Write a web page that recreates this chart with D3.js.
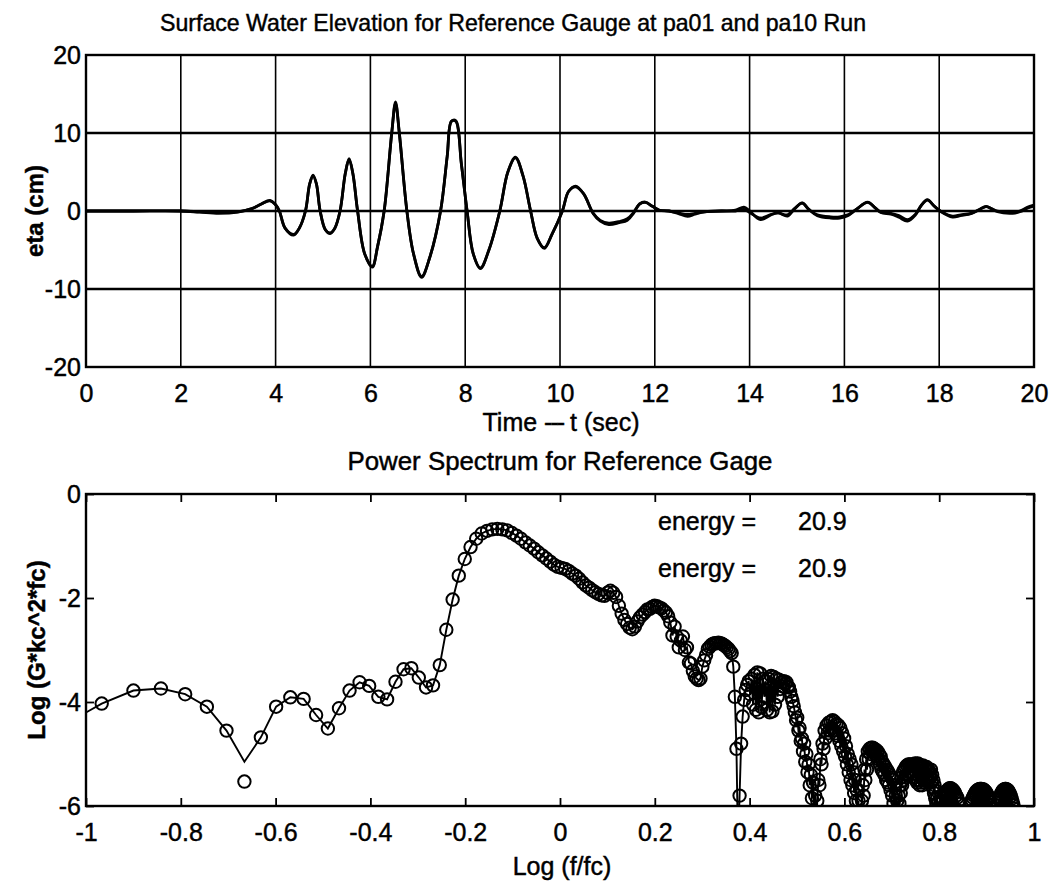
<!DOCTYPE html>
<html><head><meta charset="utf-8">
<script src="https://cdn.jsdelivr.net/npm/d3@7"></script>
<style>
body{margin:0;background:#fff}
svg{display:block}
text{font-family:"Liberation Sans",Arial,Helvetica,sans-serif;fill:#000;stroke:#000;stroke-width:0.45px}
</style>
</head><body>
<svg id="chart" width="1061" height="882"></svg>
<script>
// ---------------- DATA ----------------
const gaugePa01 = [[0,0],[1,0],[2,0],[2.4,-0.15],[2.8,-0.3],[3.2,-0.15],[3.5,0.3],[3.7,0.9],[3.88,1.35],[4.0,0.8],[4.08,0],[4.2,-2.2],[4.38,-3.1],[4.5,-2.2],[4.63,0],[4.72,3.5],[4.79,4.6],[4.86,3.5],[4.94,0],[5.05,-2.4],[5.15,-2.9],[5.25,-2.2],[5.36,0],[5.47,4.8],[5.55,6.7],[5.63,4.8],[5.73,0],[5.88,-5.5],[6.04,-7.2],[6.15,-4.6],[6.29,0],[6.45,10],[6.53,14.0],[6.61,10],[6.77,0],[6.91,-5.5],[7.08,-8.5],[7.25,-6],[7.48,0],[7.62,7],[7.71,11.5],[7.8,11.6],[7.92,6],[8.04,0],[8.17,-5.5],[8.32,-7.4],[8.5,-5],[8.73,0],[8.9,5],[9.06,6.9],[9.22,4.5],[9.38,0],[9.52,-3.5],[9.67,-4.8],[9.83,-3],[10.05,0],[10.18,2.5],[10.33,3.2],[10.5,2.2],[10.7,-0.3],[10.85,-1.3],[11.03,-1.75],[11.25,-1.5],[11.42,-1.2],[11.55,-0.3],[11.68,0.9],[11.8,1.15],[11.95,0.6],[12.1,0.1],[12.3,0],[12.5,-0.35],[12.69,-0.68],[12.85,-0.4],[13.05,-0.1],[13.4,0],[13.7,0.1],[13.88,0.5],[14.0,0.0],[14.23,-1.1],[14.45,-0.5],[14.6,-0.25],[14.8,-0.65],[14.95,0.3],[15.11,1.03],[15.25,0.2],[15.43,-0.6],[15.71,-0.9],[15.9,-0.9],[16.07,-0.6],[16.25,0.2],[16.49,1.15],[16.65,0.4],[16.77,-0.2],[16.98,-0.4],[17.15,-0.8],[17.33,-1.3],[17.5,-0.5],[17.62,0.7],[17.75,1.45],[17.9,0.6],[18.04,-0.1],[18.28,-0.77],[18.45,-0.6],[18.67,-0.35],[18.85,0.2],[18.99,0.6],[19.1,0.3],[19.23,-0.1],[19.55,-0.3],[19.7,-0.1],[19.87,0.4],[20,0.65]];

const gaugePa10 = [[0,0],[1,0],[2,0],[2.4,-0.1],[2.8,-0.2],[3.2,-0.1],[3.5,0.3],[3.7,0.9],[3.88,1.3],[4.0,0.8],[4.08,0],[4.2,-2.2],[4.38,-3.0],[4.5,-2.2],[4.63,0],[4.72,3.5],[4.79,4.5],[4.86,3.5],[4.94,0],[5.05,-2.4],[5.15,-2.8],[5.25,-2.2],[5.36,0],[5.47,4.8],[5.55,6.6],[5.63,4.8],[5.73,0],[5.88,-5.5],[6.04,-7.1],[6.15,-4.6],[6.29,0],[6.45,10],[6.53,13.8],[6.61,10],[6.77,0],[6.91,-5.5],[7.08,-8.4],[7.25,-6],[7.48,0],[7.62,7],[7.71,11.5],[7.8,11.5],[7.92,6],[8.04,0],[8.17,-5.5],[8.32,-7.3],[8.5,-5],[8.73,0],[8.9,5],[9.06,6.8],[9.22,4.5],[9.38,0],[9.52,-3.5],[9.67,-4.7],[9.83,-3],[10.05,0],[10.18,2.5],[10.33,3.1],[10.5,2.2],[10.7,-0.3],[10.85,-1.2],[11.03,-1.55],[11.25,-1.35],[11.42,-1.0],[11.55,-0.2],[11.68,0.9],[11.8,1.1],[11.95,0.6],[12.1,0.1],[12.3,0],[12.5,-0.25],[12.69,-0.45],[12.85,-0.3],[13.05,-0.1],[13.4,0],[13.7,0.0],[13.88,0.2],[14.0,-0.2],[14.23,-0.9],[14.45,-0.45],[14.6,-0.25],[14.8,-0.5],[14.95,0.3],[15.11,1.0],[15.25,0.2],[15.43,-0.5],[15.71,-0.75],[15.9,-0.75],[16.07,-0.5],[16.25,0.2],[16.49,1.1],[16.65,0.4],[16.77,-0.15],[16.98,-0.3],[17.15,-0.6],[17.33,-1.1],[17.5,-0.4],[17.62,0.7],[17.75,1.4],[17.9,0.6],[18.04,-0.05],[18.28,-0.65],[18.45,-0.5],[18.67,-0.3],[18.85,0.2],[18.99,0.55],[19.1,0.3],[19.23,0.0],[19.55,-0.2],[19.7,0.0],[19.87,0.5],[20,0.75]];

const timeTicks = [0,2,4,6,8,10,12,14,16,18,20];
const etaTicks = [-20,-10,0,10,20];

// power spectrum: FFT bins k = specBinStart, specBinStart+1, ...  log10(f/fc) = log10(k) + specLogBinWidth
const specBinStart = 5;
const specLogBinWidth = -1.745;
const specPower = [
-3.95,-4.03,-3.78,-3.74,-3.85,-4.09,-4.55,-5.53,-4.68,-4.09,
-3.91,-3.94,-4.25,-4.51,-4.12,-3.78,-3.62,-3.69,-3.90,-3.95,
-3.61,-3.37,-3.35,-3.53,-3.72,-3.68,-3.29,-2.61,-2.03,-1.57,
-1.25,-1.02,-0.86,-0.76,-0.71,-0.68,-0.67,-0.68,-0.70,-0.75,
-0.80,-0.86,-0.93,-0.99,-1.05,-1.12,-1.18,-1.24,-1.30,-1.36,
-1.40,-1.42,-1.44,-1.48,-1.53,-1.57,-1.63,-1.70,-1.76,-1.80,
-1.85,-1.89,-1.92,-1.95,-1.96,-1.90,-1.86,-1.90,-1.98,-2.15,
-2.30,-2.42,-2.50,-2.57,-2.60,-2.55,-2.45,-2.37,-2.32,-2.27,
-2.22,-2.21,-2.17,-2.15,-2.16,-2.18,-2.20,-2.24,-2.28,-2.35,
-2.47,-2.72,-2.55,-2.74,-2.95,-2.82,-2.74,-3.00,-2.95,-3.24,
-3.26,-3.40,-3.51,-3.55,-3.58,-3.55,-3.32,-3.20,-3.10,-2.98,
-2.94,-2.90,-2.88,-2.87,-2.87,-2.86,-2.87,-2.88,-2.90,-2.92,
-2.95,-2.98,-3.02,-3.06,-3.32,-3.90,-4.90,-6.80,-5.80,-4.80,
-4.28,-3.96,-3.77,-3.67,-3.60,-3.85,-3.55,-4.05,-3.48,-4.15,
-3.43,-4.20,-3.45,-4.10,-3.55,-3.90,-3.60,-4.15,-3.55,-4.20,
-3.50,-4.18,-3.52,-4.05,-3.55,-3.90,-3.57,-3.75,-3.62,-3.70,
-3.60,-3.65,-3.62,-3.70,-3.72,-3.80,-3.90,-3.98,-4.08,-4.20,
-4.35,-4.30,-4.55,-4.50,-4.75,-4.70,-4.95,-4.80,-5.15,-5.00,
-5.35,-5.20,-5.60,-5.40,-5.85,-5.55,-6.10,-5.80,-6.30,-5.90,
-5.50,-5.60,-5.10,-5.20,-4.80,-4.90,-4.55,-4.70,-4.45,-4.60,
-4.40,-4.55,-4.38,-4.50,-4.35,-4.55,-4.38,-4.60,-4.42,-4.65,
-4.45,-4.75,-4.50,-4.85,-4.60,-4.95,-4.70,-5.05,-4.85,-5.20,
-5.00,-5.35,-5.10,-5.50,-5.20,-5.60,-5.35,-5.75,-5.50,-5.90,
-5.70,-6.20,-5.90,-6.40,-6.10,-6.30,-5.90,-5.60,-5.80,-5.30,
-5.50,-5.10,-5.30,-4.95,-5.10,-4.90,-5.00,-4.88,-4.95,-4.88,
-4.95,-4.90,-5.00,-4.92,-5.05,-4.95,-5.10,-5.00,-5.20,-5.05,
-5.30,-5.15,-5.35,-5.20,-5.40,-5.25,-5.50,-5.30,-5.55,-5.35,
-5.60,-5.40,-5.70,-5.45,-5.80,-5.50,-5.95,-5.60,-6.10,-5.80,
-6.30,-5.90,-6.20,-5.80,-5.95,-5.60,-5.75,-5.45,-5.60,-5.35,
-5.50,-5.30,-5.45,-5.25,-5.40,-5.22,-5.38,-5.20,-5.35,-5.20,
-5.35,-5.20,-5.35,-5.22,-5.38,-5.22,-5.45,-5.18,-5.50,-5.20,
-5.55,-5.18,-5.50,-5.20,-5.60,-5.22,-5.55,-5.25,-5.60,-5.22,
-5.50,-5.25,-5.55,-5.28,-5.50,-5.25,-5.45,-5.30,-5.50,-5.32,
-5.40,-5.45,-5.30,-5.55,-5.40,-5.65,-5.50,-5.75,-5.60,-5.85,
-5.70,-5.95,-5.85,-6.10,-5.95,-6.20,-6.05,-6.30,-5.95,-6.25,
-5.90,-6.25,-5.85,-6.25,-5.78,-6.25,-5.75,-6.20,-5.72,-6.25,
-5.70,-6.20,-5.67,-6.25,-5.66,-6.20,-5.66,-6.25,-5.67,-6.20,
-5.69,-6.25,-5.72,-6.20,-5.75,-6.25,-5.80,-6.20,-5.84,-6.25,
-5.90,-6.25,-5.96,-6.30,-6.10,-6.40,-6.20,-6.50,-6.30,-6.45,
-6.40,-6.55,-6.35,-6.50,-6.40,-6.45,-6.30,-6.40,-6.20,-6.30,
-6.10,-6.30,-5.98,-6.25,-5.94,-6.25,-5.88,-6.25,-5.84,-6.20,
-5.80,-6.25,-5.76,-6.20,-5.73,-6.25,-5.71,-6.20,-5.69,-6.25,
-5.68,-6.20,-5.67,-6.25,-5.67,-6.20,-5.67,-6.25,-5.68,-6.20,
-5.68,-6.25,-5.70,-6.20,-5.72,-6.25,-5.74,-6.20,-5.78,-6.25,
-5.81,-6.20,-5.86,-6.25,-5.92,-6.25,-5.98,-6.30,-6.05,-6.35,
-6.15,-6.40,-6.30,-6.45,-6.35,-6.40,-6.25,-6.30,-6.10,-6.30,
-6.00,-6.25,-5.93,-6.25,-5.87,-6.20,-5.82,-6.25,-5.77,-6.20,
-5.74,-6.25,-5.71,-6.20,-5.69,-6.25,-5.68,-6.20,-5.67,-6.25,
-5.67,-6.20,-5.68,-6.25,-5.69,-6.20,-5.71,-6.25,-5.74,-6.20,
-5.77,-6.25,-5.81,-6.20,-5.86,-6.25,-5.92,-6.25,-5.98,-6.30,
-6.05,-6.35,-6.15,-6.40,-6.30,-6.50,-6.40,-6.55,-6.50,-6.60
];
// second (line-only) run differs from the circled run at these bins: [bin, value]
const specLineDiffs = [[5,-4.44],[12,-5.15]];
const freqTicks = [-1,-0.8,-0.6,-0.4,-0.2,0,0.2,0.4,0.6,0.8,1];
const powerTicks = [-6,-4,-2,0];
const energyValues = ["20.9","20.9"];

// ---------------- LAYOUT ----------------
const svg = d3.select("#chart");
const L = 86, R = 1034;
const top1 = 55, bot1 = 367;
const top2 = 494, bot2 = 806;
const FS = 25;

const defs = svg.append("defs");
defs.append("clipPath").attr("id","clip1").append("rect").attr("x",L).attr("y",top1).attr("width",R-L).attr("height",bot1-top1);
defs.append("clipPath").attr("id","clip2").append("rect").attr("x",L).attr("y",top2).attr("width",R-L).attr("height",bot2-top2);

// ---------- TOP PLOT ----------
const xT = d3.scaleLinear().domain([0,20]).range([L,R]);
const yT = d3.scaleLinear().domain([-20,20]).range([bot1,top1]);

const g1 = svg.append("g");
g1.selectAll("line.vg").data(timeTicks.slice(1,-1)).join("line")
  .attr("x1",d=>xT(d)).attr("x2",d=>xT(d)).attr("y1",top1).attr("y2",bot1)
  .attr("stroke","#000").attr("stroke-width",1.6);
g1.selectAll("line.hg").data(etaTicks.slice(1,-1)).join("line")
  .attr("y1",d=>yT(d)).attr("y2",d=>yT(d)).attr("x1",L).attr("x2",R)
  .attr("stroke","#000").attr("stroke-width",2.4);

const lineT = d3.line().x(d=>xT(d[0])).y(d=>yT(d[1])).curve(d3.curveCatmullRom.alpha(0.5));
const dT = svg.append("g").attr("clip-path","url(#clip1)");
[gaugePa01, gaugePa10].forEach(s=>{
  dT.append("path").attr("d",lineT(s)).attr("fill","none").attr("stroke","#000")
    .attr("stroke-width",2.8).attr("stroke-linejoin","round");
});

const axB1 = d3.axisBottom(xT).tickValues(timeTicks).tickSizeInner(0).tickSizeOuter(0).tickPadding(17).tickFormat(d=>String(d));
const axL1 = d3.axisLeft(yT).tickValues(etaTicks).tickSizeInner(0).tickSizeOuter(0).tickPadding(5).tickFormat(d=>String(d));
const gxb1 = svg.append("g").attr("transform",`translate(0,${bot1})`).call(axB1);
const gyl1 = svg.append("g").attr("transform",`translate(${L},0)`).call(axL1);
[gxb1,gyl1].forEach(g=>{g.select(".domain").remove();
  g.selectAll("text").attr("font-size",FS).attr("font-family","Liberation Sans, Arial, sans-serif").attr("fill","#000");});
svg.append("rect").attr("x",L).attr("y",top1).attr("width",R-L).attr("height",bot1-top1)
  .attr("fill","none").attr("stroke","#000").attr("stroke-width",2.4);

svg.append("text").attr("x",513).attr("y",31).attr("text-anchor","middle").attr("font-size",24)
  .attr("textLength",706).attr("lengthAdjust","spacingAndGlyphs")
  .text("Surface Water Elevation for Reference Gauge at pa01 and pa10 Run");
const tl = svg.append("text").attr("x",561).attr("y",431).attr("text-anchor","middle").attr("font-size",FS);
tl.append("tspan").text("Time ");
tl.append("tspan").attr("letter-spacing","-2").text("---");
tl.append("tspan").text("  t (sec)");
svg.append("text").attr("transform",`translate(43,${(top1+bot1)/2}) rotate(-90)`).attr("text-anchor","middle")
  .attr("font-size",24).attr("font-weight","bold").text("eta (cm)");

// ---------- BOTTOM PLOT ----------
const xS = d3.scaleLinear().domain([-1,1]).range([L,R]);
const yS = d3.scaleLinear().domain([-6,0]).range([bot2,top2]);

const specPts = specPower.map((p,i)=>({k:specBinStart+i, lf:Math.log10(specBinStart+i)+specLogBinWidth, p}));
const diffMap = new Map(specLineDiffs);
const linePts = specPts.map(d=>({k:d.k, lf:d.lf, p: diffMap.has(d.k)? diffMap.get(d.k): d.p}));

const dS = svg.append("g").attr("clip-path","url(#clip2)");
const lineS = d3.line().x(d=>xS(d.lf)).y(d=>yS(d.p));
dS.append("path").attr("d",lineS(linePts)).attr("fill","none").attr("stroke","#000").attr("stroke-width",1.9);
dS.selectAll("circle").data(specPts).join("circle")
  .attr("cx",d=>xS(d.lf)).attr("cy",d=>yS(d.p)).attr("r",6.2)
  .attr("fill","none").attr("stroke","#000").attr("stroke-width",2);

const axB2 = d3.axisBottom(xS).tickValues(freqTicks).tickSizeInner(-8).tickSizeOuter(0).tickPadding(17).tickFormat(d=>String(d));
const axT2 = d3.axisTop(xS).tickValues(freqTicks).tickSizeInner(-8).tickSizeOuter(0).tickFormat("");
const axL2 = d3.axisLeft(yS).tickValues(powerTicks).tickSizeInner(-8).tickSizeOuter(0).tickPadding(5).tickFormat(d=>String(d));
const axR2 = d3.axisRight(yS).tickValues(powerTicks).tickSizeInner(-8).tickSizeOuter(0).tickFormat("");
const gb2 = svg.append("g").attr("transform",`translate(0,${bot2})`).call(axB2);
const gt2 = svg.append("g").attr("transform",`translate(0,${top2})`).call(axT2);
const gl2 = svg.append("g").attr("transform",`translate(${L},0)`).call(axL2);
const gr2 = svg.append("g").attr("transform",`translate(${R},0)`).call(axR2);
[gb2,gt2,gl2,gr2].forEach(g=>{g.select(".domain").remove();
  g.selectAll("line").attr("stroke","#000").attr("stroke-width",1.8);
  g.selectAll("text").attr("font-size",FS).attr("font-family","Liberation Sans, Arial, sans-serif").attr("fill","#000");});
svg.append("rect").attr("x",L).attr("y",top2).attr("width",R-L).attr("height",bot2-top2)
  .attr("fill","none").attr("stroke","#000").attr("stroke-width",2.4);

svg.append("text").attr("x",560).attr("y",470).attr("text-anchor","middle").attr("font-size",FS)
  .attr("textLength",425).attr("lengthAdjust","spacingAndGlyphs")
  .text("Power Spectrum for Reference Gage");
svg.append("text").attr("x",562).attr("y",875).attr("text-anchor","middle").attr("font-size",FS)
  .text("Log (f/fc)");
svg.append("text").attr("transform",`translate(45,${(top2+bot2)/2}) rotate(-90)`).attr("text-anchor","middle")
  .attr("font-size",24).attr("font-weight","bold").text("Log (G*kc^2*fc)");

const energyY = [530, 577];
energyValues.forEach((v,i)=>{
  svg.append("text").attr("x",658).attr("y",energyY[i]).attr("font-size",FS).text("energy =");
  svg.append("text").attr("x",798).attr("y",energyY[i]).attr("font-size",FS).text(v);
});
</script>
</body></html>
